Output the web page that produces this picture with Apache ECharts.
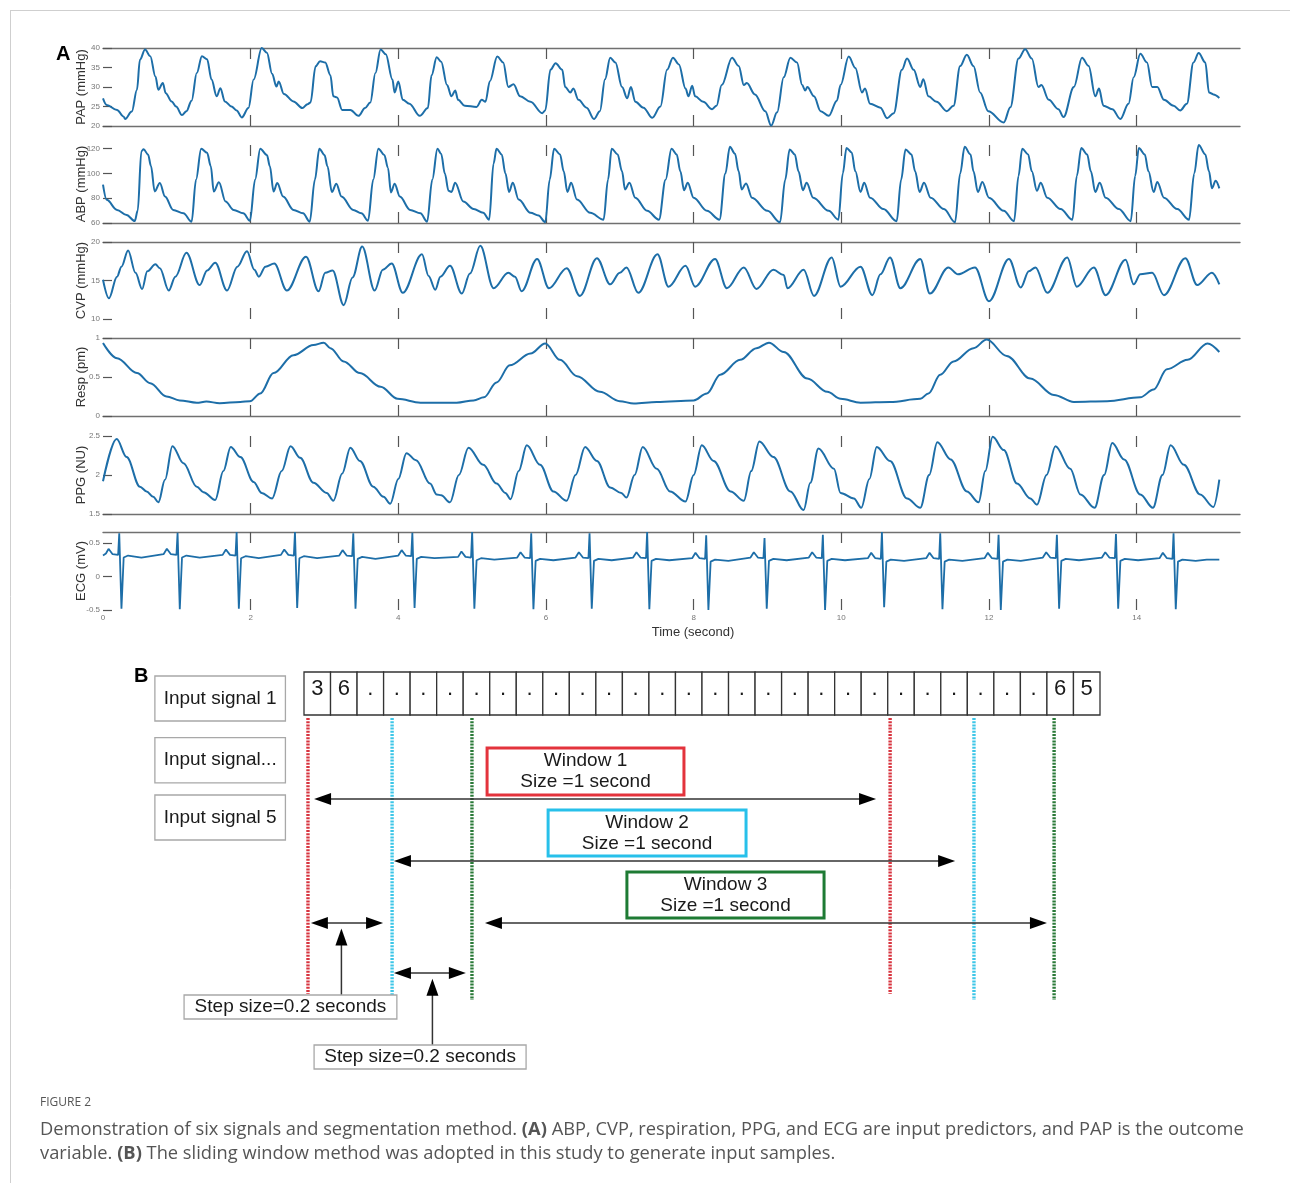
<!DOCTYPE html>
<html><head><meta charset="utf-8">
<script src="https://cdn.jsdelivr.net/npm/echarts@6/dist/echarts.min.js"></script>
<style>html,body{margin:0;padding:0;background:#fff}#c{width:1290px;height:1183px}</style>
</head><body><div id="c"></div>
<script>
// ---------------- DATA ----------------
const timeTicks = [0, 2, 4, 6, 8, 10, 12, 14];

const pap = [[0,27.1],[0.05,25.4],[0.19,24.1],[0.28,22.4],[0.3,21.8],[0.39,23.7],[0.46,29.3],[0.5,37],[0.57,39.6],[0.64,37.9],[0.71,32.7],[0.75,29.3],[0.81,31],[0.85,28.4],[0.93,26.3],[0.99,25],[1.07,22.8],[1.13,23.8],[1.2,26.5],[1.27,33.6],[1.34,37.9],[1.41,37.1],[1.47,31.9],[1.54,27.6],[1.59,29.7],[1.65,26.3],[1.74,25],[1.81,24],[1.88,22.2],[1.97,24.6],[2.04,31.9],[2.15,40],[2.22,38.8],[2.29,33.4],[2.35,30.1],[2.38,31.4],[2.45,28.2],[2.58,26.3],[2.7,24.6],[2.77,25.6],[2.81,26],[2.88,35.3],[2.94,36.6],[3.01,36.3],[3.08,33],[3.12,27.6],[3.17,27.3],[3.24,24.1],[3.35,24.1],[3.46,22.6],[3.55,24.6],[3.62,26],[3.69,33.6],[3.76,39.6],[3.83,38.4],[3.92,31.9],[3.95,28.6],[4.0,31.4],[4.06,26.7],[4.15,25.7],[4.29,22.6],[4.4,24.6],[4.45,33],[4.52,37.6],[4.58,36.5],[4.66,30.5],[4.72,27.6],[4.77,29.1],[4.81,26.7],[4.9,25.2],[5.06,24.9],[5.13,26.7],[5.18,26.2],[5.24,31.5],[5.34,37.8],[5.42,36.3],[5.49,30],[5.56,30.7],[5.65,27.6],[5.79,26.2],[5.95,23.3],[5.99,24],[6.06,34.4],[6.13,36.1],[6.22,34.4],[6.26,30],[6.33,28.6],[6.37,29.6],[6.44,26.7],[6.55,24.7],[6.65,21.8],[6.73,23.8],[6.8,32],[6.87,37.5],[6.94,36.3],[7.03,30],[7.1,27.1],[7.15,30],[7.21,26.2],[7.32,24.7],[7.44,22.1],[7.55,25],[7.64,34.4],[7.72,37.5],[7.8,35.8],[7.89,29.6],[7.93,27.6],[7.98,30.3],[8.02,27.6],[8.13,26.2],[8.25,24.3],[8.31,25.2],[8.38,30.5],[8.52,37.5],[8.61,35.4],[8.68,30.5],[8.72,31],[8.83,28.1],[8.97,23.8],[9.05,20.1],[9.13,23.5],[9.22,32.5],[9.31,37.5],[9.4,36.3],[9.47,30.5],[9.51,29.1],[9.54,30],[9.63,27.6],[9.72,23.8],[9.83,22.6],[9.94,26.5],[9.99,30.5],[10.1,37.8],[10.19,34.9],[10.28,28.6],[10.32,29.6],[10.39,25.7],[10.53,24.7],[10.62,22],[10.71,23.3],[10.82,34.4],[10.89,37.3],[10.98,34.4],[11.07,30],[11.11,32],[11.18,27.6],[11.29,26.2],[11.43,23.8],[11.52,25.2],[11.61,35.4],[11.7,38.3],[11.79,35.4],[11.88,28.6],[11.99,23.8],[12.2,20.9],[12.29,24.8],[12.4,37.3],[12.49,39.7],[12.58,37.3],[12.67,30],[12.71,30.5],[12.81,26.7],[12.94,24.3],[13.01,22.3],[13.15,30],[13.26,37.5],[13.35,35.4],[13.44,27.6],[13.49,29.6],[13.55,25.2],[13.67,24.3],[13.78,21.8],[13.89,25.7],[13.96,32.5],[14.05,38.5],[14.14,36.3],[14.21,30],[14.28,30],[14.37,26.7],[14.5,25.2],[14.59,24],[14.68,25.7],[14.77,36.3],[14.84,38.7],[14.93,36.3],[14.98,28.6],[15.04,28.1],[15.12,27.2]];

const abp = [[0,91],[0.05,78.7],[0.19,70.6],[0.32,66.5],[0.43,61.6],[0.47,70],[0.52,118],[0.55,119.5],[0.61,115.4],[0.65,106],[0.7,85.5],[0.77,92.3],[0.84,81.4],[0.95,70.6],[1.09,67.9],[1.2,61.1],[1.26,95],[1.33,120],[1.41,116.7],[1.46,105.9],[1.5,85.5],[1.57,92.9],[1.66,77.4],[1.77,70.6],[1.9,67.9],[1.99,61.9],[2.06,95],[2.13,120],[2.22,115],[2.26,105.9],[2.31,85.5],[2.36,92.3],[2.44,81.4],[2.58,70.6],[2.71,67.9],[2.8,61.1],[2.87,95],[2.93,120],[3.0,115],[3.04,105.9],[3.1,85],[3.16,91.8],[3.23,81.4],[3.39,70.6],[3.5,67.9],[3.59,61.9],[3.66,95],[3.73,120],[3.81,115],[3.86,104.5],[3.9,84.7],[3.95,91.8],[4.02,81.4],[4.16,70.6],[4.3,67.9],[4.39,61.1],[4.46,95],[4.53,120],[4.58,116],[4.63,100],[4.68,86],[4.72,85],[4.77,92.6],[4.88,77.4],[5.02,71.3],[5.15,68.2],[5.23,62.7],[5.29,108],[5.33,120],[5.4,115.4],[5.45,100.2],[5.5,85],[5.55,92.6],[5.63,78.9],[5.79,68.2],[5.9,66],[5.99,60.6],[6.05,95],[6.11,120],[6.19,115.4],[6.24,101.7],[6.29,85],[6.34,92.6],[6.42,78.9],[6.6,68.2],[6.78,62.7],[6.84,95],[6.89,120],[6.97,115.4],[7.03,101.7],[7.07,87.1],[7.13,92.6],[7.21,80.4],[7.37,69.8],[7.53,62.7],[7.62,95],[7.7,120],[7.77,115.4],[7.82,101.7],[7.87,86.5],[7.92,92.6],[8.0,80.4],[8.18,69.8],[8.35,62.7],[8.43,100],[8.49,121.5],[8.56,116],[8.61,101.7],[8.65,87.1],[8.71,92],[8.79,80.4],[9.0,69.8],[9.17,60.6],[9.24,95],[9.3,119.4],[9.37,115.4],[9.42,101.7],[9.48,86.5],[9.53,92.6],[9.62,80.4],[9.83,69.8],[9.96,62.7],[10.02,100],[10.07,120.6],[10.14,117],[10.19,101.7],[10.26,85],[10.31,92.6],[10.39,80.4],[10.57,71.3],[10.75,61.5],[10.81,95],[10.87,119.4],[10.95,115.4],[11.0,101.7],[11.06,85],[11.12,92.6],[11.21,80.4],[11.39,71.3],[11.54,60.6],[11.61,100],[11.67,121.5],[11.75,115.4],[11.79,101.7],[11.85,85],[11.91,93.2],[12.0,80.4],[12.2,69.8],[12.34,61.5],[12.4,98],[12.45,120],[12.53,115.4],[12.58,101.7],[12.65,86],[12.7,92.6],[12.79,80.4],[12.97,71.3],[13.13,62.7],[13.19,98],[13.25,120.6],[13.33,115.4],[13.38,101.7],[13.44,85],[13.5,92.6],[13.58,80.4],[13.76,71.3],[13.92,61.5],[13.98,98],[14.03,120.6],[14.11,115.4],[14.16,101.7],[14.23,85],[14.28,93.2],[14.37,80.4],[14.55,71.3],[14.71,62.7],[14.78,100],[14.84,123],[14.93,115.4],[14.98,101.7],[15.02,88],[15.07,94.1],[15.12,88]];

const cvp = [[0,15.1],[0.08,12.7],[0.19,15.5],[0.25,16.8],[0.34,18.9],[0.44,16],[0.53,13.9],[0.6,16.2],[0.71,17.1],[0.77,16.6],[0.89,13.7],[0.98,15.5],[1.13,18.6],[1.31,14.4],[1.41,16.3],[1.52,17.3],[1.68,13.7],[1.82,16.8],[1.95,18.8],[2.05,16.4],[2.11,15.5],[2.2,16.8],[2.32,17.2],[2.49,13.7],[2.75,18.1],[2.92,13.6],[3.01,16],[3.11,16.3],[3.26,11.8],[3.38,15.4],[3.51,19.4],[3.68,13.7],[3.79,16.4],[3.91,17.2],[4.06,13.4],[4.32,18.4],[4.41,15.6],[4.5,13.8],[4.57,15.5],[4.7,16.9],[4.86,13.3],[4.97,15.9],[5.11,19.5],[5.29,14],[5.49,16],[5.58,15.5],[5.67,13.6],[5.88,17.8],[6.04,14],[6.28,16.6],[6.46,13],[6.69,17.9],[6.87,14.5],[7.0,16],[7.09,16.7],[7.25,13.4],[7.51,18.4],[7.66,14.2],[7.89,16.9],[8.02,14.2],[8.29,17.8],[8.45,14],[8.68,16.7],[8.85,13.9],[9.08,16.4],[9.22,15.7],[9.27,14],[9.49,16.4],[9.63,13],[9.87,18],[9.99,14.2],[10.26,16.8],[10.42,13.1],[10.53,15.8],[10.66,18],[10.8,14],[11.07,17.8],[11.2,13.3],[11.45,16.7],[11.58,15.8],[11.81,16.7],[12.0,12.3],[12.27,17.8],[12.43,14.1],[12.54,16.2],[12.63,16.7],[12.79,13.4],[13.06,18],[13.19,14.2],[13.42,16.7],[13.58,13.1],[13.85,17.7],[13.96,14.5],[14.05,15.8],[14.21,16],[14.37,13.1],[14.66,17.9],[14.82,14.4],[15.02,16],[15.12,14.5]];

const resp = [[0,0.935],[0.19,0.74],[0.46,0.55],[0.64,0.42],[0.86,0.25],[1.04,0.2],[1.27,0.17],[1.4,0.185],[1.58,0.164],[1.86,0.18],[1.99,0.19],[2.13,0.29],[2.31,0.55],[2.58,0.78],[2.85,0.91],[2.99,0.94],[3.08,0.87],[3.26,0.7],[3.48,0.55],[3.76,0.375],[3.99,0.22],[4.3,0.17],[4.57,0.17],[4.79,0.17],[5.02,0.2],[5.16,0.24],[5.33,0.43],[5.51,0.65],[5.79,0.8],[5.99,0.93],[6.19,0.72],[6.42,0.51],[6.73,0.31],[7.0,0.19],[7.19,0.16],[7.5,0.18],[8.0,0.2],[8.18,0.29],[8.36,0.53],[8.63,0.72],[8.85,0.87],[9.02,0.94],[9.22,0.82],[9.54,0.48],[9.81,0.31],[9.99,0.22],[10.26,0.17],[10.66,0.18],[11.07,0.22],[11.18,0.29],[11.34,0.53],[11.52,0.7],[11.79,0.87],[11.97,0.98],[12.24,0.77],[12.56,0.48],[12.88,0.27],[13.15,0.18],[13.6,0.19],[14.05,0.24],[14.23,0.34],[14.41,0.6],[14.69,0.72],[14.96,0.93],[15.12,0.82]];

const ppg = [[0,1.92],[0.185,2.46],[0.32,2.23],[0.5,1.85],[0.59,1.79],[0.68,1.72],[0.75,1.65],[0.84,1.94],[0.94,2.37],[1.09,2.15],[1.27,1.85],[1.36,1.78],[1.52,1.68],[1.63,2.05],[1.73,2.36],[1.86,2.23],[2.04,1.91],[2.15,1.77],[2.29,1.7],[2.42,2.05],[2.54,2.37],[2.67,2.22],[2.85,1.9],[3.03,1.77],[3.12,1.67],[3.24,2.02],[3.35,2.35],[3.48,2.18],[3.66,1.85],[3.8,1.72],[3.89,1.63],[4.0,1.95],[4.11,2.28],[4.24,2.19],[4.43,1.89],[4.52,1.75],[4.58,1.74],[4.7,1.65],[4.82,2.0],[4.95,2.35],[5.15,2.13],[5.33,1.89],[5.45,1.77],[5.52,1.69],[5.63,2.05],[5.74,2.38],[5.92,2.13],[6.1,1.79],[6.28,1.67],[6.4,2.0],[6.53,2.36],[6.69,2.18],[6.87,1.84],[7.02,1.77],[7.09,1.71],[7.2,2.0],[7.31,2.36],[7.5,2.08],[7.68,1.79],[7.89,1.66],[8.0,2.0],[8.11,2.38],[8.27,2.18],[8.5,1.79],[8.68,1.67],[8.78,2.05],[8.89,2.43],[9.08,2.23],[9.31,1.79],[9.49,1.55],[9.58,1.9],[9.69,2.34],[9.9,2.08],[9.99,1.77],[10.17,1.7],[10.27,1.58],[10.38,1.95],[10.48,2.36],[10.66,2.18],[10.89,1.7],[11.07,1.58],[11.19,2.0],[11.3,2.42],[11.48,2.2],[11.7,1.79],[11.86,1.65],[11.95,2.05],[12.05,2.49],[12.2,2.32],[12.38,1.89],[12.56,1.7],[12.65,1.62],[12.78,2.0],[12.9,2.37],[13.1,2.08],[13.24,1.75],[13.43,1.58],[13.56,2.0],[13.67,2.41],[13.83,2.2],[14.05,1.75],[14.22,1.58],[14.35,2.0],[14.46,2.38],[14.64,2.13],[14.86,1.75],[15.04,1.59],[15.12,1.94]];

const ecg = [[0,0.31],[0.04,0.34],[0.075,0.41],[0.13,0.33],[0.205,0.32],[0.22,0.64],[0.25,-0.48],[0.28,0.28],[0.34,0.31],[0.52,0.28],
[0.82,0.33],[0.865,0.41],[0.92,0.33],[0.995,0.32],[1.01,0.65],[1.04,-0.49],[1.07,0.28],[1.13,0.31],[1.31,0.28],
[1.62,0.32],[1.665,0.4],[1.72,0.32],[1.795,0.31],[1.81,0.66],[1.84,-0.48],[1.87,0.27],[1.93,0.3],[2.11,0.27],
[2.41,0.32],[2.455,0.4],[2.51,0.32],[2.585,0.31],[2.6,0.66],[2.63,-0.47],[2.66,0.27],[2.72,0.3],[2.9,0.27],
[3.2,0.31],[3.245,0.39],[3.3,0.31],[3.375,0.3],[3.39,0.64],[3.42,-0.48],[3.45,0.26],[3.51,0.29],[3.69,0.26],
[4.0,0.31],[4.045,0.39],[4.1,0.31],[4.175,0.3],[4.19,0.65],[4.22,-0.47],[4.25,0.26],[4.31,0.29],[4.49,0.27],
[4.81,0.29],[4.855,0.37],[4.91,0.29],[4.985,0.28],[5.0,0.66],[5.03,-0.48],[5.06,0.24],[5.12,0.27],[5.3,0.25],
[5.61,0.28],[5.655,0.36],[5.71,0.28],[5.785,0.27],[5.8,0.64],[5.83,-0.49],[5.86,0.23],[5.92,0.26],[6.1,0.24],
[6.4,0.28],[6.445,0.36],[6.5,0.28],[6.575,0.27],[6.59,0.64],[6.62,-0.48],[6.65,0.23],[6.71,0.26],[6.89,0.24],
[7.18,0.28],[7.225,0.36],[7.28,0.28],[7.355,0.27],[7.37,0.66],[7.4,-0.49],[7.43,0.23],[7.49,0.26],[7.67,0.24],
[7.98,0.27],[8.025,0.35],[8.08,0.27],[8.155,0.26],[8.17,0.61],[8.2,-0.5],[8.23,0.22],[8.29,0.25],[8.47,0.23],
[8.77,0.28],[8.815,0.36],[8.87,0.28],[8.945,0.27],[8.96,0.57],[8.99,-0.48],[9.02,0.23],[9.08,0.26],[9.26,0.24],
[9.56,0.28],[9.605,0.36],[9.66,0.28],[9.735,0.27],[9.75,0.62],[9.78,-0.5],[9.81,0.23],[9.87,0.26],[10.05,0.24],
[10.36,0.27],[10.405,0.35],[10.46,0.27],[10.535,0.26],[10.55,0.66],[10.58,-0.46],[10.61,0.22],[10.67,0.25],[10.85,0.23],
[11.15,0.27],[11.195,0.35],[11.25,0.27],[11.325,0.26],[11.34,0.64],[11.37,-0.49],[11.4,0.22],[11.46,0.25],[11.64,0.23],
[11.94,0.27],[11.985,0.35],[12.04,0.27],[12.115,0.26],[12.13,0.62],[12.16,-0.5],[12.19,0.22],[12.25,0.25],[12.43,0.23],
[12.73,0.28],[12.775,0.36],[12.83,0.28],[12.905,0.27],[12.92,0.62],[12.95,-0.48],[12.98,0.23],[13.04,0.26],[13.22,0.24],
[13.53,0.28],[13.575,0.36],[13.63,0.28],[13.705,0.27],[13.72,0.63],[13.75,-0.48],[13.78,0.23],[13.84,0.26],[14.02,0.24],
[14.31,0.27],[14.355,0.35],[14.41,0.27],[14.485,0.26],[14.5,0.64],[14.53,-0.49],[14.56,0.22],[14.62,0.25],[14.8,0.23],
[14.95,0.25],[15.12,0.25]];

const panelNames = ['PAP (mmHg)', 'ABP (mmHg)', 'CVP (mmHg)', 'Resp (pm)', 'PPG (NU)', 'ECG (mV)'];
const papTicks = [20, 25, 30, 35, 40];
const abpTicks = [60, 80, 100, 120];
const cvpTicks = [10, 15, 20];
const respTicks = [0, 0.5, 1];
const ppgTicks = [1.5, 2, 2.5];
const ecgTicks = [-0.5, 0, 0.5];

// Panel B text content
const cellLabels = ['3','6','.','.','.','.','.','.','.','.','.','.','.','.','.','.','.','.','.','.','.','.','.','.','.','.','.','.','6','5'];
const inputSignals = ['Input signal 1', 'Input signal...', 'Input signal 5'];
const windowNames = ['Window 1', 'Window 2', 'Window 3'];
const windowSize = 'Size =1 second';
const stepLabel = 'Step size=0.2 seconds';

// ---------------- LAYOUT ----------------
const tickMarks = timeTicks.filter(v => v > 0);
const panelCfg = [
  {data: pap, min: 20, max: 40, ticks: papTicks, top: 48, h: 78, lt: true, lb: true},
  {data: abp, min: 60, max: 123, ticks: abpTicks, top: 145, h: 78, lt: false, lb: true},
  {data: cvp, min: 10, max: 20, ticks: cvpTicks, top: 242, h: 77, lt: true, lb: false},
  {data: resp, min: 0, max: 1, ticks: respTicks, top: 338, h: 78, lt: true, lb: true},
  {data: ppg, min: 1.5, max: 2.5, ticks: ppgTicks, top: 436, h: 78, lt: false, lb: true},
  {data: ecg, min: -0.5, max: 0.66, ticks: ecgTicks, top: 532, h: 78, lt: true, lb: false}
];
const LINE = '#1d6ea8';
const AX = '#707070';
const FONT = '"Liberation Sans", Arial, sans-serif';

const grids = [], xAxes = [], yAxes = [], series = [];
panelCfg.forEach((p, i) => {
  grids.push({left: 103, right: 50, top: p.top, height: p.h, containLabel: false, outerBoundsMode: 'none'});
  ['bottom', 'top'].forEach(pos => {
    xAxes.push({
      gridIndex: i, type: 'value', min: 0, max: 15.4, position: pos,
      axisLine: {show: pos === 'bottom' ? p.lb : p.lt, onZero: false, lineStyle: {color: AX, width: 1.4}},
      axisTick: {show: true, inside: true, length: 11, customValues: tickMarks, lineStyle: {color: '#555', width: 1.2}},
      axisLabel: {show: i === 5 && pos === 'bottom', customValues: timeTicks, fontSize: 8, color: '#777', margin: 4, fontFamily: FONT},
      splitLine: {show: false}
    });
  });
  yAxes.push({
    gridIndex: i, type: 'value', min: p.min, max: p.max,
    axisLine: {show: false},
    axisTick: {show: true, inside: true, length: 9, customValues: p.ticks, lineStyle: {color: '#555', width: 1.2}},
    axisLabel: {customValues: p.ticks, fontSize: 8, color: '#777', margin: 3, fontFamily: FONT},
    splitLine: {show: false},
    name: panelNames[i], nameLocation: 'middle', nameGap: 15, nameRotate: 90, nameMoveOverlap: false,
    nameTextStyle: {fontSize: 13, color: '#333', fontFamily: FONT}
  });
  series.push({
    type: 'line', xAxisIndex: 2 * i, yAxisIndex: i, data: p.data, showSymbol: false,
    smooth: i === 5 ? false : 0.35, smoothMonotone: 'x', animation: false,
    lineStyle: {color: LINE, width: i === 5 ? 1.8 : 2}
  });
});

// Panel B: a hidden grid in "cell" units (x) and row units (y)
grids.push({left: 304, width: 796, top: 670, height: 400, outerBoundsMode: 'none'});
xAxes.push({gridIndex: 6, type: 'value', min: 0, max: 30, show: false});
yAxes.push({gridIndex: 6, type: 'value', min: 0, max: 100, inverse: true, show: false});

const bLayout = {
  cellRow: [0.5, 11.25], cellText: 4.8,
  inputBoxes: [[-5.62, 1.5, -0.7, 12.75], [-5.62, 16.9, -0.7, 28.2], [-5.62, 31.25, -0.7, 42.5]],
  windows: [
    {color: '#e3333c', dot: '#d8343f', lines: [0.15, 22.09], lineY: [12, 81], box: [6.9, 19.5, 14.32, 31.25], arrowY: 32.25, arrow: [0.38, 21.56]},
    {color: '#27c0ea', dot: '#3cc6e8', lines: [3.32, 25.25], lineY: [12, 82.5], box: [9.2, 35, 16.66, 46.5], arrowY: 47.75, arrow: [3.39, 24.54]},
    {color: '#1e7b34', dot: '#2a7a38', lines: [6.33, 28.27], lineY: [12, 82.5], box: [12.17, 50.5, 19.6, 62], arrowY: 63.25, arrow: [6.82, 28.0]}
  ],
  steps: [
    {y: 63.25, x: [0.26, 2.98], vx: 1.41, vy: [81.25, 64.6], box: [-4.52, 81.25, 3.5, 87.25]},
    {y: 75.75, x: [3.39, 6.1], vx: 4.84, vy: [93.75, 77.2], box: [0.38, 93.75, 8.37, 99.75]}
  ]
};

function renderB(params, api) {
  const P = (x, y) => api.coord([x, y]);
  const kids = [];
  const rect = (r, stroke, lw) => {
    const a = P(r[0], r[1]), b = P(r[2], r[3]);
    kids.push({type: 'rect', shape: {x: a[0], y: a[1], width: b[0] - a[0], height: b[1] - a[1]},
      style: {fill: '#fff', stroke: stroke, lineWidth: lw}});
  };
  const text = (x, y, t, size, lh) => {
    const c = P(x, y);
    kids.push({type: 'text', style: {text: t, x: c[0], y: c[1], align: 'center', verticalAlign: 'middle',
      fontSize: size, fontFamily: FONT, fill: '#1a1a1a', lineHeight: lh || size + 3}});
  };
  const seg = (x1, y1, x2, y2, stroke, lw, dash) => {
    const a = P(x1, y1), b = P(x2, y2);
    kids.push({type: 'line', shape: {x1: a[0], y1: a[1], x2: b[0], y2: b[1]},
      style: {stroke: stroke, lineWidth: lw, lineDash: dash || null}});
  };
  const head = (x, y, dir) => {
    const t = P(x, y), L = 17, W = 6;
    let pts;
    if (dir === 'r') pts = [[t[0], t[1]], [t[0] - L, t[1] - W], [t[0] - L, t[1] + W]];
    else if (dir === 'l') pts = [[t[0], t[1]], [t[0] + L, t[1] - W], [t[0] + L, t[1] + W]];
    else pts = [[t[0], t[1]], [t[0] - W, t[1] + L], [t[0] + W, t[1] + L]];
    kids.push({type: 'polygon', shape: {points: pts}, style: {fill: '#000'}});
  };
  bLayout.windows.forEach(w => {
    w.lines.forEach(x => seg(x, w.lineY[0], x, w.lineY[1], w.dot, 3.4, [2, 1.2]));
  });
  cellLabels.forEach((lab, i) => {
    rect([i, bLayout.cellRow[0], i + 1, bLayout.cellRow[1]], '#333', 1.3);
    text(i + 0.5, bLayout.cellText, lab, 22);
  });
  inputSignals.forEach((s, i) => {
    const r = bLayout.inputBoxes[i];
    rect(r, '#a8a8a8', 1.3);
    text((r[0] + r[2]) / 2, (r[1] + r[3]) / 2, s, 19);
  });
  bLayout.windows.forEach((w, i) => {
    seg(w.arrow[0] + 0.4, w.arrowY, w.arrow[1] - 0.4, w.arrowY, '#333', 1.5);
    head(w.arrow[0], w.arrowY, 'l');
    head(w.arrow[1], w.arrowY, 'r');
    rect(w.box, w.color, 3);
    text((w.box[0] + w.box[2]) / 2, (w.box[1] + w.box[3]) / 2, windowNames[i] + '\n' + windowSize, 19, 21);
  });
  bLayout.steps.forEach(s => {
    seg(s.x[0] + 0.4, s.y, s.x[1] - 0.4, s.y, '#333', 1.5);
    head(s.x[0], s.y, 'l');
    head(s.x[1], s.y, 'r');
    seg(s.vx, s.vy[0], s.vx, s.vy[1] + 3, '#333', 1.5);
    head(s.vx, s.vy[1], 'u');
    rect(s.box, '#a8a8a8', 1.3);
    text((s.box[0] + s.box[2]) / 2, (s.box[1] + s.box[3]) / 2, stepLabel, 19);
  });
  return {type: 'group', children: kids};
}

series.push({
  type: 'custom', xAxisIndex: 12, yAxisIndex: 6, data: [[0, 0]], clip: false,
  renderItem: renderB, animation: false, silent: true
});

const capFont = '"Open Sans", "Noto Sans", sans-serif';
const option = {
  animation: false,
  backgroundColor: '#fff',
  textStyle: {fontFamily: FONT},
  grid: grids, xAxis: xAxes, yAxis: yAxes, series: series,
  graphic: [
    {type: 'line', shape: {x1: 10, y1: 10.5, x2: 1290, y2: 10.5}, style: {stroke: '#cfcfcf', lineWidth: 1}},
    {type: 'line', shape: {x1: 10.5, y1: 10, x2: 10.5, y2: 1183}, style: {stroke: '#cfcfcf', lineWidth: 1}},
    {type: 'text', left: 56, top: 44, style: {text: 'A', fontSize: 20, fontWeight: 'bold', fontFamily: FONT, fill: '#000'}},
    {type: 'text', left: 134, top: 666, style: {text: 'B', fontSize: 20, fontWeight: 'bold', fontFamily: FONT, fill: '#000'}},
    {type: 'text', x: 693, y: 632, style: {text: 'Time (second)', fontSize: 13, fontFamily: FONT, fill: '#333', align: 'center', verticalAlign: 'middle'}},
    {type: 'text', x: 40, y: 1103, style: {text: 'FIGURE 2', fontSize: 12, fontFamily: capFont, fill: '#555', verticalAlign: 'middle'}},
    {type: 'text', x: 40, y: 1130, style: {
      text: 'Demonstration of six signals and segmentation method. {b|(A)} ABP, CVP, respiration, PPG, and ECG are input predictors, and PAP is the outcome',
      fontSize: 18.3, fontFamily: capFont, fill: '#555', verticalAlign: 'middle',
      rich: {b: {fontWeight: 'bold', fontSize: 18.3, fontFamily: capFont, fill: '#555'}}}},
    {type: 'text', x: 40, y: 1154, style: {
      text: 'variable. {b|(B)} The sliding window method was adopted in this study to generate input samples.',
      fontSize: 18.3, fontFamily: capFont, fill: '#555', verticalAlign: 'middle',
      rich: {b: {fontWeight: 'bold', fontSize: 18.3, fontFamily: capFont, fill: '#555'}}}}
  ]
};

const chart = echarts.init(document.getElementById('c'), null, {renderer: 'canvas'});
chart.setOption(option);
</script>
</body></html>
